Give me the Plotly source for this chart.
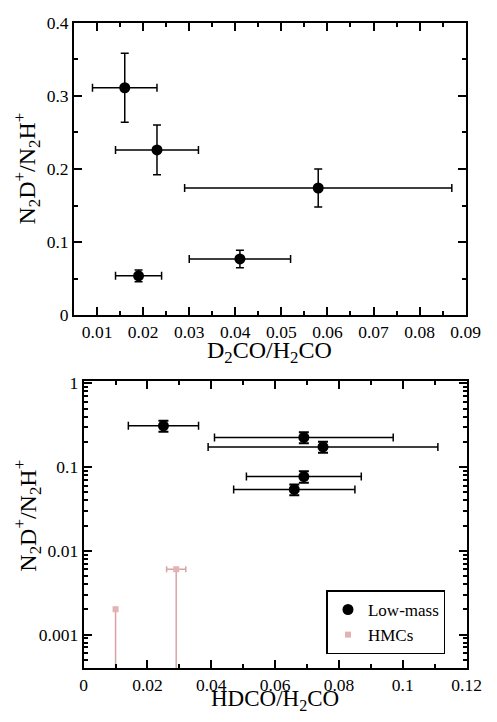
import plotly.graph_objects as go

# ---- data ----
n2d_ratio = [0.311, 0.226, 0.174, 0.077, 0.054]
n2d_err = [0.047, 0.034, 0.026, 0.012, 0.008]
d2co_ratio = [0.016, 0.023, 0.058, 0.041, 0.019]
d2co_err = [0.007, 0.009, 0.029, 0.011, 0.005]
hdco_ratio = [0.025, 0.069, 0.075, 0.069, 0.066]
hdco_err = [0.011, 0.028, 0.036, 0.018, 0.019]

hmc_hdco = [0.010, 0.029]
hmc_hdco_err = [None, 0.003]
hmc_n2d = [0.002, 0.006]

log_ticks = [0.001, 0.01, 0.1, 1]
log_tick_text = ["0.001", "0.01", "0.1", "1"]

legend_labels = ["Low-mass", "HMCs"]

FONT = "Liberation Serif"
W, H = 497, 722
HMC_COLOR = "#d9a3a3"
HMC_MARKER = "#e3b3b3"

fig = go.Figure()

# top panel
fig.add_trace(go.Scatter(
    x=d2co_ratio, y=n2d_ratio, mode="markers", showlegend=False, name=legend_labels[0],
    marker=dict(color="black", size=11, symbol="circle"),
    error_x=dict(type="data", array=d2co_err, color="black", thickness=1.5, width=4),
    error_y=dict(type="data", array=n2d_err, color="black", thickness=1.5, width=4),
    xaxis="x", yaxis="y"))

# bottom panel
fig.add_trace(go.Scatter(
    x=hdco_ratio, y=n2d_ratio, mode="markers", name=legend_labels[0], showlegend=True,
    marker=dict(color="black", size=11, symbol="circle"),
    error_x=dict(type="data", array=hdco_err, color="black", thickness=1.5, width=4),
    error_y=dict(type="data", array=n2d_err, color="black", thickness=2, width=5),
    xaxis="x2", yaxis="y2"))

fig.add_trace(go.Scatter(
    x=hmc_hdco, y=hmc_n2d, mode="markers", name=legend_labels[1], showlegend=True,
    marker=dict(color=HMC_MARKER, size=6, symbol="square"),
    error_x=dict(type="data", array=hmc_hdco_err, color=HMC_COLOR, thickness=1.5, width=3),
    error_y=dict(type="data", symmetric=False, array=[0 for _ in hmc_n2d],
                 arrayminus=hmc_n2d, color=HMC_COLOR, thickness=1.5, width=0),
    xaxis="x2", yaxis="y2"))

axis_common = dict(
    showline=True, linewidth=2, linecolor="black", mirror="allticks",
    ticks="inside", ticklen=8, tickwidth=1.5, tickcolor="black",
    showgrid=False, zeroline=False,
    tickfont=dict(family=FONT, size=17.5, color="black"),
)

minor_ticks = []
for dec in [0.0001, 0.001, 0.01, 0.1]:
    for m in range(2, 10):
        minor_ticks.append(m * dec)


def px(x):
    return x / W


def py(y):
    return 1 - y / H


fig.update_layout(
    width=W, height=H,
    margin=dict(l=0, r=0, t=0, b=0),
    paper_bgcolor="white", plot_bgcolor="white",
    font=dict(family=FONT, color="black"),
    showlegend=True,
    legend=dict(x=px(336), y=py(597), xanchor="left", yanchor="top",
                bordercolor="black", borderwidth=1.5, bgcolor="white",
                font=dict(family=FONT, size=17, color="black"),
                itemwidth=30, tracegroupgap=0),
    xaxis=dict(domain=[73 / W, 481 / W], range=[0.005, 0.09], tick0=0, dtick=0.01,
               minor=dict(dtick=0.005, tick0=0, ticks="inside", ticklen=4, tickwidth=1.5, tickcolor="black"),
               anchor="y", **axis_common),
    yaxis=dict(domain=[1 - 314 / H, 1 - 13 / H], range=[0, 0.4], tick0=0, dtick=0.1,
               minor=dict(dtick=0.05, tick0=0, ticks="inside", ticklen=4, tickwidth=1.5, tickcolor="black"),
               anchor="x", **axis_common),
    xaxis2=dict(domain=[83 / W, 482 / W], range=[0, 0.12], tick0=0, dtick=0.02,
                minor=dict(dtick=0.01, tick0=0, ticks="inside", ticklen=4, tickwidth=1.5, tickcolor="black"),
                anchor="y2", **axis_common),
    yaxis2=dict(domain=[1 - 677 / H, 1 - 382 / H], type="log", range=[-3.403, 0.023],
                tickmode="array", tickvals=log_ticks, ticktext=log_tick_text,
                minor=dict(tickmode="array", tickvals=minor_ticks, ticks="inside", ticklen=4,
                           tickwidth=1.5, tickcolor="black"),
                anchor="x2", **axis_common),
)

title_font = dict(family=FONT, size=24, color="black")
fig.add_annotation(text="D<sub>2</sub>CO/H<sub>2</sub>CO", x=px(277), y=py(352),
                   xref="paper", yref="paper", showarrow=False, font=title_font,
                   xanchor="center", yanchor="middle")
fig.add_annotation(text="N<sub>2</sub>D<sup>+</sup>/N<sub>2</sub>H<sup>+</sup>", x=px(24), y=py(163),
                   xref="paper", yref="paper", showarrow=False, font=title_font, textangle=-90,
                   xanchor="center", yanchor="middle")
fig.add_annotation(text="HDCO/H<sub>2</sub>CO", x=px(282), y=py(710),
                   xref="paper", yref="paper", showarrow=False,
                   font=dict(family=FONT, size=23, color="black"),
                   xanchor="center", yanchor="middle")
fig.add_annotation(text="N<sub>2</sub>D<sup>+</sup>/N<sub>2</sub>H<sup>+</sup>", x=px(24), y=py(520),
                   xref="paper", yref="paper", showarrow=False, font=title_font, textangle=-90,
                   xanchor="center", yanchor="middle")

fig.write_html("out.html")
